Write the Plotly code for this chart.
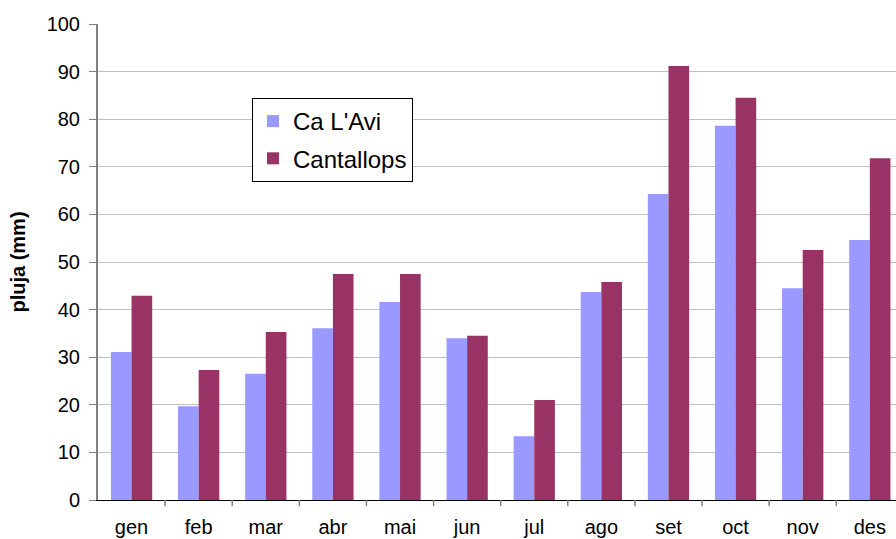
import plotly.graph_objects as go

months = ["gen", "feb", "mar", "abr", "mai", "jun", "jul", "ago", "set", "oct", "nov", "des"]
ca_lavi = [31.1, 19.7, 26.5, 36.1, 41.6, 34.0, 13.4, 43.7, 64.3, 78.6, 44.5, 54.6]
cantallops = [42.9, 27.3, 35.3, 47.5, 47.5, 34.5, 21.0, 45.8, 91.2, 84.5, 52.5, 71.8]
y_ticks = [0, 10, 20, 30, 40, 50, 60, 70, 80, 90, 100]

FONT = "Liberation Sans, Arial, sans-serif"

fig = go.Figure()
fig.add_trace(go.Bar(x=list(range(12)), y=ca_lavi, name="Ca L'Avi",
                     marker=dict(color="#9999FF", line=dict(width=0)),
                     legendgroup="a"))
fig.add_trace(go.Bar(x=list(range(12)), y=cantallops, name="Cantallops",
                     marker=dict(color="#993366", line=dict(width=0)),
                     legendgroup="b"))

fig.update_layout(
    width=896, height=539,
    margin=dict(l=98, r=0, t=24, b=39),
    paper_bgcolor="white", plot_bgcolor="white",
    barmode="group", bargap=0.385, bargroupgap=0,
    font=dict(family=FONT, size=20, color="black"),
    showlegend=True,
    legend=dict(x=0.193, y=0.8445, xanchor="left", yanchor="top",
                bgcolor="white", bordercolor="black", borderwidth=1,
                font=dict(size=24, family=FONT), tracegroupgap=3,
                itemwidth=30),
    xaxis=dict(
        tickmode="array", tickvals=list(range(12)), ticktext=months,
        range=[-0.5, 11.39], automargin=False,
        showline=True, linecolor="black", linewidth=1,
        ticks="", showgrid=False, zeroline=False,
        tickfont=dict(size=20), ticklabelstandoff=9,
    ),
    yaxis=dict(
        range=[0, 100], tickvals=y_ticks, automargin=False,
        showline=True, linecolor="#808080", linewidth=2,
        ticks="outside", ticklen=7, tickcolor="#808080",
        showgrid=True, gridcolor="#C0C0C0", gridwidth=1,
        zeroline=False, tickfont=dict(size=20), ticklabelstandoff=5,
        title=dict(text="<b>pluja (mm)</b>", font=dict(size=20), standoff=16),
    ),
)

# category boundary ticks on x axis
for i in range(12):
    fig.add_shape(type="line", xref="x", yref="paper",
                  x0=i + 0.5, x1=i + 0.5, y0=0, y1=-0.013,
                  line=dict(color="#808080", width=1.5))

fig.write_html("out.html",
               config={"displayModeBar": False},
               post_script="document.body.style.margin='0px';document.body.style.overflow='hidden';")
